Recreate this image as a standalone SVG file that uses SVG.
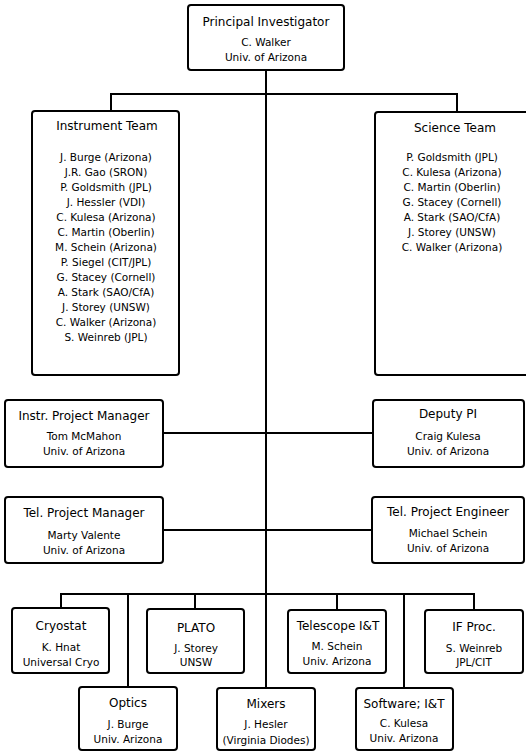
<svg xmlns="http://www.w3.org/2000/svg" width="526" height="752" viewBox="0 0 526 752">
<style>
.box{fill:#fff;stroke:#000;stroke-width:2}
.ln{fill:none;stroke:#000;stroke-width:2}
text{font-family:"DejaVu Sans",sans-serif;text-anchor:middle;fill:#000}
.t{font-size:12px}
.s{font-size:10.5px}
</style>
<rect width="526" height="752" fill="#fff"/>
<g id="connectors">
<path class="ln" d="M266 70V688"/>
<path class="ln" d="M111 111V94H457V112"/>
<path class="ln" d="M163 433H373"/>
<path class="ln" d="M163 530H372"/>
<path class="ln" d="M61 608V594H474V610"/>
<path class="ln" d="M128 594V687"/>
<path class="ln" d="M195 594V609"/>
<path class="ln" d="M337 594V610"/>
<path class="ln" d="M404 594V688"/>
</g>
<g id="pi">
<rect class="box" x="188" y="5" width="156" height="65" rx="3"/>
<text class="t" x="266" y="26">Principal Investigator</text>
<text class="s" x="266" y="46">C. Walker</text>
<text class="s" x="266" y="61">Univ. of Arizona</text>
</g>
<g id="instrument-team">
<rect class="box" x="32" y="111" width="147" height="264" rx="3"/>
<text class="t" x="107" y="130">Instrument Team</text>
<text class="s" x="106" y="161">J. Burge (Arizona)</text>
<text class="s" x="106" y="176">J.R. Gao (SRON)</text>
<text class="s" x="106" y="191">P. Goldsmith (JPL)</text>
<text class="s" x="106" y="206">J. Hessler (VDI)</text>
<text class="s" x="106" y="221">C. Kulesa (Arizona)</text>
<text class="s" x="106" y="236">C. Martin (Oberlin)</text>
<text class="s" x="106" y="251">M. Schein (Arizona)</text>
<text class="s" x="106" y="266">P. Siegel (CIT/JPL)</text>
<text class="s" x="106" y="281">G. Stacey (Cornell)</text>
<text class="s" x="106" y="296">A. Stark (SAO/CfA)</text>
<text class="s" x="106" y="311">J. Storey (UNSW)</text>
<text class="s" x="106" y="326">C. Walker (Arizona)</text>
<text class="s" x="106" y="341">S. Weinreb (JPL)</text>
</g>
<g id="science-team">
<rect class="box" x="375" y="112" width="160" height="263" rx="3"/>
<text class="t" x="455" y="132">Science Team</text>
<text class="s" x="452" y="161">P. Goldsmith (JPL)</text>
<text class="s" x="452" y="176">C. Kulesa (Arizona)</text>
<text class="s" x="452" y="191">C. Martin (Oberlin)</text>
<text class="s" x="452" y="206">G. Stacey (Cornell)</text>
<text class="s" x="452" y="221">A. Stark (SAO/CfA)</text>
<text class="s" x="452" y="236">J. Storey (UNSW)</text>
<text class="s" x="452" y="251">C. Walker (Arizona)</text>
</g>
<g id="instr-pm">
<rect class="box" x="5" y="400" width="158" height="67" rx="3"/>
<text class="t" x="84" y="420">Instr. Project Manager</text>
<text class="s" x="84" y="440">Tom McMahon</text>
<text class="s" x="84" y="455">Univ. of Arizona</text>
</g>
<g id="deputy-pi">
<rect class="box" x="373" y="400" width="151" height="67" rx="3"/>
<text class="t" x="448" y="418">Deputy PI</text>
<text class="s" x="448" y="440">Craig Kulesa</text>
<text class="s" x="448" y="455">Univ. of Arizona</text>
</g>
<g id="tel-pm">
<rect class="box" x="5" y="497" width="158" height="66" rx="3"/>
<text class="t" x="84" y="517">Tel. Project Manager</text>
<text class="s" x="84" y="539">Marty Valente</text>
<text class="s" x="84" y="554">Univ. of Arizona</text>
</g>
<g id="tel-pe">
<rect class="box" x="372" y="497" width="152" height="66" rx="3"/>
<text class="t" x="448" y="516">Tel. Project Engineer</text>
<text class="s" x="448" y="537">Michael Schein</text>
<text class="s" x="448" y="552">Univ. of Arizona</text>
</g>
<g id="cryostat">
<rect class="box" x="12" y="608" width="97" height="65" rx="3"/>
<text class="t" x="61" y="630">Cryostat</text>
<text class="s" x="61" y="651">K. Hnat</text>
<text class="s" x="61" y="666">Universal Cryo</text>
</g>
<g id="plato">
<rect class="box" x="147" y="609" width="97" height="64" rx="3"/>
<text class="t" x="196" y="632">PLATO</text>
<text class="s" x="196" y="652">J. Storey</text>
<text class="s" x="196" y="666">UNSW</text>
</g>
<g id="telescope-it">
<rect class="box" x="288" y="610" width="98" height="63" rx="3"/>
<text class="t" x="338" y="630">Telescope I&amp;T</text>
<text class="s" x="337" y="650">M. Schein</text>
<text class="s" x="337" y="665">Univ. Arizona</text>
</g>
<g id="if-proc">
<rect class="box" x="425" y="610" width="98" height="63" rx="3"/>
<text class="t" x="474" y="631">IF Proc.</text>
<text class="s" x="474" y="652">S. Weinreb</text>
<text class="s" x="474" y="666">JPL/CIT</text>
</g>
<g id="optics">
<rect class="box" x="79" y="687" width="98" height="63" rx="3"/>
<text class="t" x="128" y="707">Optics</text>
<text class="s" x="128" y="728">J. Burge</text>
<text class="s" x="128" y="743">Univ. Arizona</text>
</g>
<g id="mixers">
<rect class="box" x="217" y="688" width="98" height="62" rx="3"/>
<text class="t" x="266" y="708">Mixers</text>
<text class="s" x="266" y="728">J. Hesler</text>
<text class="s" x="266" y="744">(Virginia Diodes)</text>
</g>
<g id="software-it">
<rect class="box" x="356" y="688" width="97" height="62" rx="3"/>
<text class="t" x="404" y="708">Software; I&amp;T</text>
<text class="s" x="404" y="727">C. Kulesa</text>
<text class="s" x="404" y="742">Univ. Arizona</text>
</g>
</svg>
